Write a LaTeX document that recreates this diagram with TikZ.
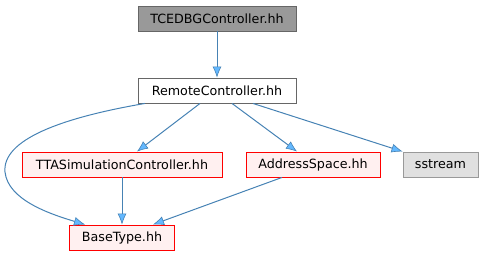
\documentclass[tikz,border=0pt]{standalone}
\usepackage{fontspec}
\setmainfont{DejaVu Sans}
\usepackage{tikz}
\usetikzlibrary{arrows.meta,positioning}
\definecolor{EdgeBlue}{HTML}{4682B4}
\definecolor{TipBlue}{HTML}{63B8FF}
\definecolor{FileGray}{HTML}{999999}
\definecolor{FileFrame}{HTML}{666666}
\definecolor{SysGray}{HTML}{E0E0E0}
\definecolor{IncRed}{HTML}{FFF0F0}

\begin{document}
\begin{tikzpicture}[x=1pt, y=-1pt, every node/.style={font=\fontsize{12.7}{15}\selectfont, draw, line width=0.9pt, minimum height=25pt, inner sep=0pt}, dep/.style={draw=EdgeBlue, line width=1pt, -{Latex[length=11pt,width=9pt,fill=TipBlue,line width=0.6pt]}}]
\useasboundingbox (0,0) rectangle (484,256);
\node[draw=FileFrame, fill=FileGray, minimum width=158pt] (tcedbg) at (217,18.5) {TCEDBGController.hh};
\node[draw=FileFrame, fill=white, minimum width=158pt] (remote) at (217,90.5) {RemoteController.hh};
\node[draw=red, fill=IncRed, minimum width=200pt] (ttasim) at (122,164.5) {TTASimulationController.hh};
\node[draw=red, fill=IncRed, minimum width=134pt] (addrspace) at (313,164.5) {AddressSpace.hh};
\node[draw=FileGray, fill=SysGray, minimum width=75pt] (sstream) at (440.5,164.5) {sstream};
\node[draw=red, fill=IncRed, minimum width=105pt] (basetype) at (122,237.5) {BaseType.hh};
\draw[dep] (tcedbg)--(remote);
\draw[dep] ([xshift=-72pt]remote.south) .. controls (60,118) and (2,140) .. (5,172) .. controls (8,200) and (50,214) .. ([xshift=-37pt]basetype.north);
\draw[dep] ([xshift=-17pt]remote.south)--([xshift=15pt]ttasim.north);
\draw[dep] ([xshift=15pt]remote.south)--([xshift=-16pt]addrspace.north);
\draw[dep] ([xshift=36pt]remote.south)--(sstream.north west);
\draw[dep] (ttasim)--(basetype);
\draw[dep] ([xshift=-31pt]addrspace.south)--([xshift=31pt]basetype.north);
\end{tikzpicture}
\end{document}
